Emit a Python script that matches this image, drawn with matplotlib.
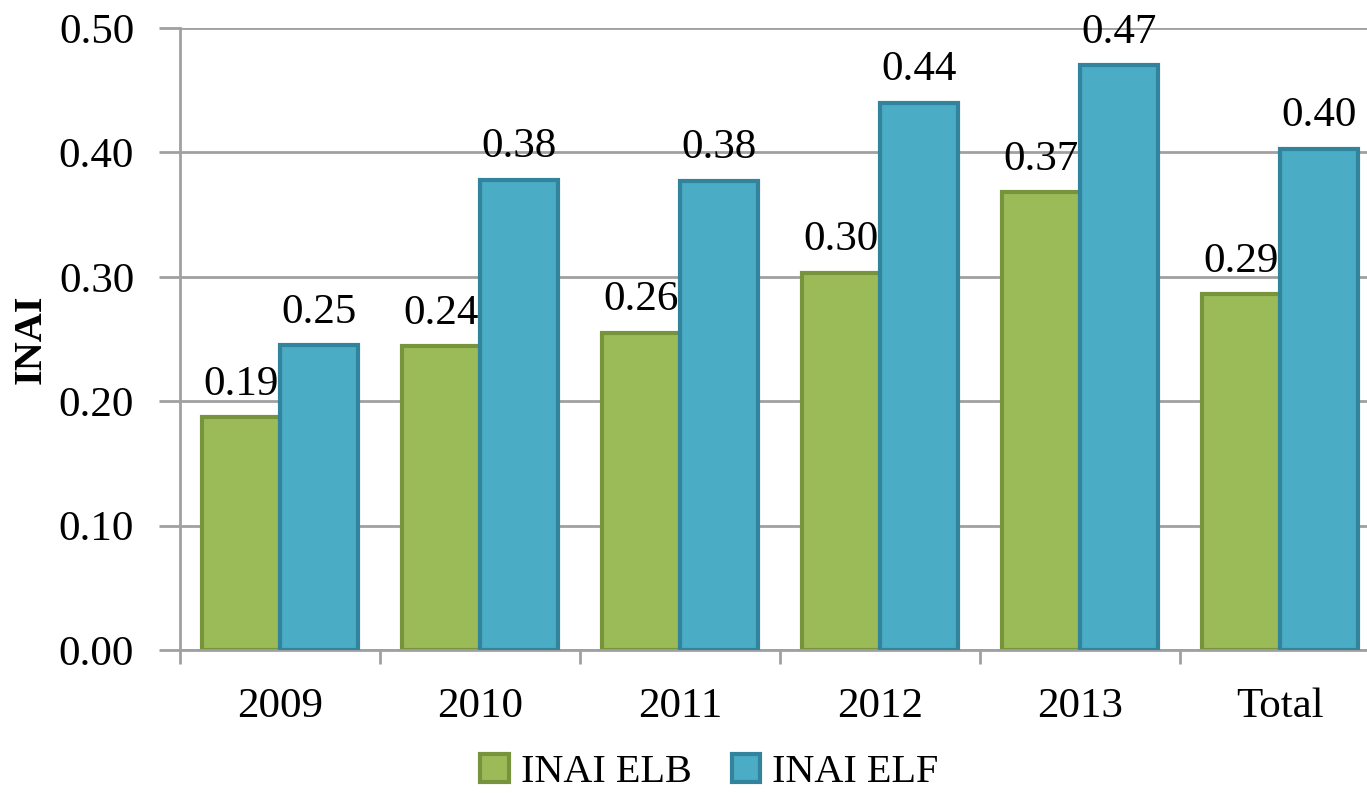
# Bar chart of INAI ELB / INAI ELF by year
import matplotlib
matplotlib.use('Agg')
import matplotlib.pyplot as plt
import numpy as np
from matplotlib.patches import Patch

categories = ['2009', '2010', '2011', '2012', '2013', 'Total']
inai_elb = [0.187, 0.244, 0.255, 0.303, 0.368, 0.286]
inai_elf = [0.245, 0.378, 0.377, 0.440, 0.470, 0.403]
elb_labels = ['0.19', '0.24', '0.26', '0.30', '0.37', '0.29']
elf_labels = ['0.25', '0.38', '0.38', '0.44', '0.47', '0.40']

plt.rcParams['font.family'] = ['Liberation Serif', 'DejaVu Serif']

green, green_edge = '#9BBB59', '#77933C'
blue, blue_edge = '#4BACC6', '#31849B'
grid_col = '#A0A0A0'
fs = 31

fig = plt.figure(figsize=(13.67, 7.93), dpi=100)
ax = fig.add_axes([0.1317, 0.1803, 0.8778, 0.7844])

x = np.arange(len(categories))
w = 0.39
ax.bar(x - w / 2, inai_elb, width=w, color=green, edgecolor=green_edge,
       linewidth=3, zorder=2)
ax.bar(x + w / 2, inai_elf, width=w, color=blue, edgecolor=blue_edge,
       linewidth=3, zorder=4)

# value labels above the bars (green labels sit under the blue bars)
for xi, v, lab in zip(x, inai_elb, elb_labels):
    ax.text(xi - w / 2, v + 0.011, lab, ha='center', va='bottom', fontsize=fs, zorder=3)
for xi, v, lab in zip(x, inai_elf, elf_labels):
    ax.text(xi + w / 2, v + 0.011, lab, ha='center', va='bottom', fontsize=fs, zorder=5,
            clip_on=False)

ax.set_ylim(0, 0.5)
ax.set_xlim(-0.5, len(categories) - 0.5)
ax.set_yticks(np.arange(0, 0.51, 0.1))
ax.set_yticklabels(['%.2f' % t for t in np.arange(0, 0.51, 0.1)], fontsize=fs)
ax.yaxis.grid(True, color=grid_col, linewidth=2, zorder=0)
ax.set_axisbelow(True)

# x ticks at category boundaries, labels at centres
ax.set_xticks(np.arange(-0.5, len(categories), 1.0))
ax.set_xticklabels([])
ax.set_xticks(x, minor=True)
ax.set_xticklabels(categories, minor=True, fontsize=fs)
ax.tick_params(axis='x', which='major', length=10, width=2, color=grid_col, direction='out')
ax.tick_params(axis='x', which='minor', length=0, pad=27)
ax.tick_params(axis='y', length=15, width=2, color=grid_col, pad=18)

for s in ['top', 'right']:
    ax.spines[s].set_visible(False)
ax.spines['left'].set_color(grid_col)
ax.spines['left'].set_linewidth(2)
ax.spines['bottom'].set_color(grid_col)
ax.spines['bottom'].set_linewidth(2)

fig.text(0.023, 0.572, 'INAI', rotation=90, ha='center', va='center',
         fontsize=29, fontweight='bold')

handles = [Patch(facecolor=green, edgecolor=green_edge, linewidth=3, label='INAI ELB'),
           Patch(facecolor=blue, edgecolor=blue_edge, linewidth=3, label='INAI ELF')]
fig.legend(handles=handles, loc='center', bbox_to_anchor=(0.519, 0.026), ncol=2,
           frameon=False, fontsize=29, handlelength=0.7, handleheight=0.7,
           handletextpad=0.3, columnspacing=1.0, borderpad=0.1)

fig.savefig('out.png', dpi=100)
